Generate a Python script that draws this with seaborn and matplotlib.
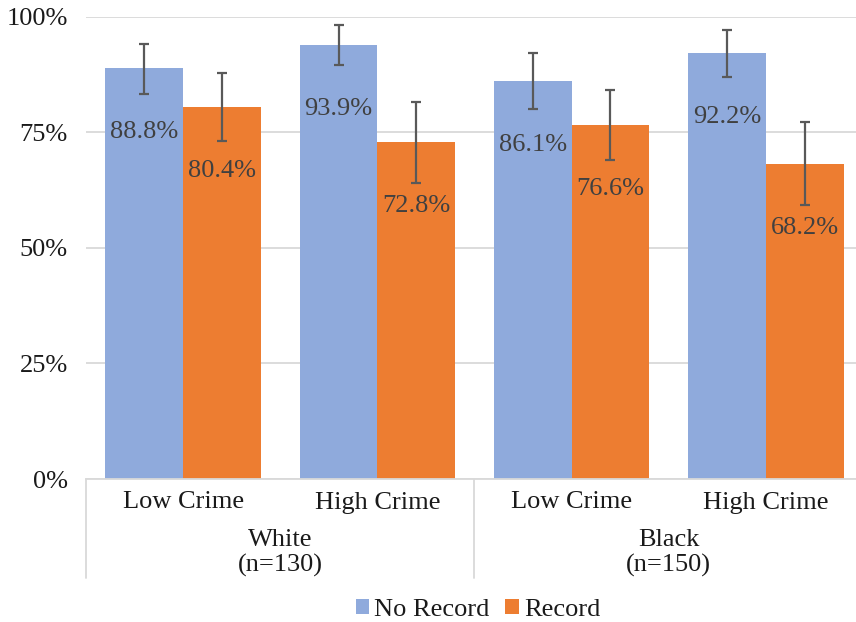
import matplotlib
matplotlib.use("Agg")
import matplotlib.pyplot as plt
import matplotlib.transforms as mtransforms
from matplotlib.patches import Patch
import seaborn as sns
import pandas as pd

# ---- data ----
crime = ["Low Crime", "High Crime", "Low Crime", "High Crime"]
race_groups = ["White\n(n=130)", "Black\n(n=150)"]
series = ["No Record", "Record"]
no_record = [88.8, 93.9, 86.1, 92.2]
record = [80.4, 72.8, 76.6, 68.2]
no_record_lo = [83.2, 89.6, 80.0, 87.0]
no_record_hi = [94.2, 98.1, 92.2, 97.1]
record_lo = [73.1, 64.0, 69.0, 59.3]
record_hi = [87.8, 81.6, 84.1, 77.3]
y_ticks = [0, 25, 50, 75, 100]

colors = {"No Record": "#8FAADC", "Record": "#ED7D31"}
text_col = "#404040"
FS = 19

sns.set_style("white")
plt.rcParams["font.family"] = ["Liberation Serif", "DejaVu Serif"]

cats = [f"c{i}" for i in range(len(crime))]
df = pd.DataFrame({
    "cat": cats * 2,
    "series": [series[0]] * 4 + [series[1]] * 4,
    "value": no_record + record,
    "lo": no_record_lo + record_lo,
    "hi": no_record_hi + record_hi,
})

fig = plt.figure(figsize=(8.56, 6.22), dpi=100)
W, H = 856, 622
ax_left, ax_bottom_px, ax_top_px = 86, 479, 16.7
ax_w = 777
ax = fig.add_axes([ax_left / W, (H - ax_bottom_px) / H, ax_w / W, (ax_bottom_px - ax_top_px) / H])

sns.barplot(data=df, x="cat", y="value", hue="series", order=cats,
            hue_order=series, palette=colors, width=0.8, errorbar=None,
            saturation=1, ax=ax, legend=False, linewidth=0)

# error bars and labels from bar patches
bars = [p for p in ax.patches if p.get_height() > 0]
for p in bars:
    cx = p.get_x() + p.get_width() / 2
    v = p.get_height()
    row = df[(abs(df["value"] - v) < 1e-6)].iloc[0]
    ax.errorbar([cx], [v], yerr=[[v - row["lo"]], [row["hi"] - v]],
                fmt="none", ecolor="#595959", elinewidth=1.6, capsize=3.4,
                capthick=1.6, zorder=4)
    ax.annotate(f"{v:.1f}%", xy=(cx, v), xytext=(0, -64),
                textcoords="offset pixels", ha="center", va="center",
                fontsize=FS, color=text_col, zorder=5)

ax.set_ylim(0, 100)
ax.set_xlim(-0.5, 3.5)
ax.set_yticks(y_ticks)
ax.set_yticklabels([f"{t}%" for t in y_ticks], fontsize=FS, color="#1a1a1a")
ax.yaxis.grid(True, color="#D9D9D9", linewidth=1.3)
ax.set_axisbelow(True)
ax.tick_params(axis="y", length=0, pad=13)
ax.tick_params(axis="x", length=0, pad=9)
ax.set_xticks(range(len(crime)))
ax.set_xticklabels(crime, fontsize=FS, color="#1a1a1a")
ax.set_xlabel("")
ax.set_ylabel("")
for s in ["top", "right", "left"]:
    ax.spines[s].set_visible(False)
ax.spines["bottom"].set_color("#D9D9D9")
ax.spines["bottom"].set_linewidth(1.3)

# group labels and separators
trans = mtransforms.blended_transform_factory(ax.transData, ax.transAxes)
axh = ax_bottom_px - ax_top_px
for i, g in enumerate(race_groups):
    ax.text(2 * i + 0.5, -(553 - ax_bottom_px) / axh, g, transform=trans,
            ha="center", va="center", fontsize=FS, color="#1a1a1a",
            linespacing=1.18)
for xs in [-0.5, 1.5, 3.5]:
    ax.plot([xs, xs], [0, -(578 - ax_bottom_px) / axh], transform=trans,
            color="#D9D9D9", linewidth=1.3, clip_on=False)

handles = [Patch(facecolor=colors[s], edgecolor="none", label=s) for s in series]
fig.legend(handles=handles, loc="center", bbox_to_anchor=(478 / W, (H - 610) / H),
           ncol=2, frameon=False, fontsize=FS, handlelength=0.5,
           handleheight=0.5, handletextpad=0.2, columnspacing=0.6,
           borderpad=0.0, labelcolor="#1a1a1a")

fig.savefig("out.png", dpi=100)
